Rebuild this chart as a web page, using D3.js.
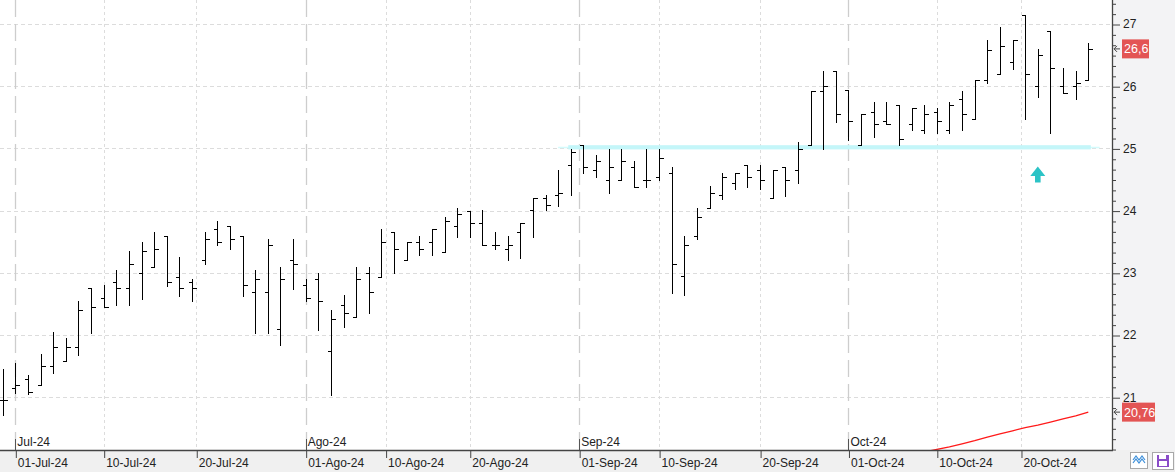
<!DOCTYPE html>
<html><head><meta charset="utf-8">
<script src="https://cdn.jsdelivr.net/npm/d3@7"></script>
<style>html,body{margin:0;padding:0;background:#fff;overflow:hidden}svg{display:block}</style>
</head><body><svg id="c" width="1175" height="472"></svg>
<script>
// ---- data (daily OHLC, 28-Jun-24 .. 28-Oct-24) ----
const firstDay = "2024-06-28";
const opens  = [20.95,21.14,21.29,21.19,21.50,21.59,21.81,22.75,22.59,22.85,22.75,23.00,23.09,23.59,22.94,22.85,23.20,23.70,23.75,23.59,22.69,22.69,22.10,23.20,22.80,22.90,21.74,22.49,22.29,22.99,22.94,23.65,23.20,23.49,23.49,23.34,23.75,23.99,23.80,23.44,23.39,23.65,24.01,24.20,24.25,24.74,25.05,24.65,24.49,24.49,24.70,24.49,24.54,24.60,22.95,23.59,24.04,24.25,24.44,24.74,24.65,24.20,24.70,24.65,25.05,25.93,26.24,25.94,25.05,25.59,25.44,25.70,25.39,25.29,25.59,25.29,25.79,25.48,26.10,26.19,26.39,27.15,26.00,26.89,26.00,26.00,26.10];
const highs  = [21.45,21.55,21.36,21.70,22.05,21.95,22.55,22.75,22.80,23.05,23.35,23.49,23.65,23.59,23.25,22.90,23.65,23.84,23.75,23.59,23.04,23.54,23.09,23.54,22.90,22.99,22.40,22.64,23.09,23.09,23.70,23.65,23.49,23.59,23.70,23.89,24.04,23.99,24.01,23.66,23.59,23.80,24.20,24.25,24.65,24.99,25.05,24.89,24.99,24.99,24.80,24.99,24.99,24.70,23.59,24.04,24.40,24.60,24.60,24.74,24.74,24.65,24.70,25.10,25.93,26.24,26.24,25.94,25.55,25.74,25.74,25.70,25.65,25.70,25.65,25.74,25.93,26.10,26.74,26.95,26.74,27.15,26.60,26.89,26.29,26.24,26.70];
const lows   = [20.71,21.06,21.05,21.19,21.39,21.59,21.68,22.04,22.45,22.49,22.49,22.58,23.09,22.79,22.63,22.54,23.14,23.44,23.39,22.63,22.04,22.04,21.84,22.74,22.54,22.08,21.04,22.13,22.29,22.35,22.94,22.99,23.20,23.29,23.29,23.34,23.58,23.58,23.44,23.39,23.20,23.24,23.58,24.01,24.08,24.25,24.60,24.54,24.29,24.49,24.38,24.38,24.49,22.68,22.64,23.54,24.04,24.19,24.34,24.38,24.34,24.20,24.24,24.44,25.05,24.99,25.43,25.14,25.05,25.19,25.39,25.05,25.29,25.24,25.24,25.24,25.29,25.48,26.05,26.19,26.28,25.48,25.83,25.24,25.89,25.79,26.10];
const closes = [20.96,21.20,21.09,21.50,21.81,21.81,22.40,22.45,22.45,22.75,23.14,23.35,23.39,22.85,22.75,22.75,23.54,23.49,23.54,22.80,22.90,23.45,22.90,23.14,22.59,22.54,22.26,22.35,22.90,22.69,23.49,23.39,23.49,23.39,23.70,23.84,23.94,23.80,23.44,23.44,23.44,23.80,24.20,24.09,24.29,24.94,24.70,24.80,24.70,24.80,24.38,24.49,24.84,23.14,23.45,23.89,24.29,24.54,24.60,24.54,24.49,24.65,24.49,24.99,25.93,26.01,25.56,25.44,25.55,25.39,25.39,25.15,25.65,25.55,25.44,25.70,25.55,26.10,26.59,26.64,26.74,26.20,26.50,26.29,25.89,26.05,26.60];
// red moving-average line (only the visible tail, starting at bar index maStart)
const maStart = 73;
const maValues = [20.12,20.16,20.20,20.25,20.30,20.36,20.41,20.46,20.51,20.55,20.60,20.65,20.70,20.76];
// date axis
const tickDates  = ["2024-07-01","2024-07-10","2024-07-20","2024-08-01","2024-08-10","2024-08-20","2024-09-01","2024-09-10","2024-09-20","2024-10-01","2024-10-10","2024-10-20"];
const tickLabels = ["01-Jul-24","10-Jul-24","20-Jul-24","01-Ago-24","10-Ago-24","20-Ago-24","01-Sep-24","10-Sep-24","20-Sep-24","01-Oct-24","10-Oct-24","20-Oct-24"];
const monthDates  = ["2024-07-01","2024-08-01","2024-09-01","2024-10-01"];
const monthLabels = ["Jul-24","Ago-24","Sep-24","Oct-24"];
// price axis
const yTicks = [21,22,23,24,25,26,27];
const supportLevel = 25;
const signalBar = 82, signalValue = 24.71;
const lastPriceLabel = "26,6", lastPriceValue = 26.6;
const maLabel = "20,76", maLabelValue = 20.76;

// ---- layout ----
const W = 1175, H = 472, plotR = 1112, plotB = 450;
const svg = d3.select("#c");
const font = "'Liberation Sans', Arial, sans-serif";

// trading calendar
const parse = d3.utcParse("%Y-%m-%d");
const days = [];
{ let d = parse(firstDay); while (days.length < opens.length) { const wd = d.getUTCDay(); if (wd !== 0 && wd !== 6) days.push(new Date(d)); d = d3.utcDay.offset(d, 1); } }
function fracIndex(s) {
  const d = parse(s);
  let i = days.findIndex(t => +t === +d);
  if (i >= 0) return i;
  let last = 0; days.forEach((t, k) => { if (t < d) last = k; });
  return last + d3.utcDay.count(days[last], d) / 3;
}

const x = d3.scaleLinear().domain([0, opens.length - 1]).range([2.7, 1088.3]);
const y = d3.scaleLinear().domain([21, 27]).range([397.2, 24]);
const px = v => Math.round(v) + 0.5;

// backgrounds
svg.append("rect").attr("width", W).attr("height", H).attr("fill", "#fff");
svg.append("rect").attr("x", plotR).attr("y", 0).attr("width", W - plotR).attr("height", plotB).attr("fill", "#f3f3f5");
svg.append("rect").attr("x", 0).attr("y", plotB).attr("width", W).attr("height", H - plotB).attr("fill", "#f0f0f0");

svg.append("defs").append("clipPath").attr("id", "plot").append("rect").attr("x", 0).attr("y", 0).attr("width", plotR).attr("height", plotB);
const plot = svg.append("g").attr("clip-path", "url(#plot)");

// horizontal grid
plot.selectAll("line.hg").data(yTicks).join("line").attr("class", "hg")
  .attr("x1", 0).attr("x2", plotR).attr("y1", d => px(y(d))).attr("y2", d => px(y(d)))
  .attr("stroke", "#dcdcdc").attr("stroke-dasharray", "4,3");
// vertical grid
const monthPos = monthDates.map(fracIndex);
const tickPos = tickDates.map(fracIndex);
plot.selectAll("line.vg").data(tickPos.filter((p, i) => !monthDates.includes(tickDates[i]))).join("line").attr("class", "vg")
  .attr("x1", d => px(x(d))).attr("x2", d => px(x(d))).attr("y1", 0).attr("y2", plotB)
  .attr("stroke", "#dcdcdc").attr("stroke-dasharray", "3,3");
plot.selectAll("line.mg").data(monthPos).join("line").attr("class", "mg")
  .attr("x1", d => px(x(d))).attr("x2", d => px(x(d))).attr("y1", 0).attr("y2", plotB)
  .attr("stroke", "#cdcdcd").attr("stroke-width", 1.3).attr("stroke-dasharray", "17,7");

// support band at 25
plot.append("line").attr("x1", x(44.0)).attr("x2", x(86.9)).attr("y1", y(supportLevel) - 0.8).attr("y2", y(supportLevel) - 0.8)
  .attr("stroke", "#d4fbfc").attr("stroke-width", 1.5);
plot.append("rect").attr("x", x(44.8)).attr("width", x(86.2) - x(44.8)).attr("y", y(supportLevel) - 3.2).attr("height", 4.2)
  .attr("fill", "#c4f6f9");

// red MA line
plot.append("path").datum(maValues)
  .attr("d", d3.line().x((d, i) => x(maStart + i)).y(d => y(d)))
  .attr("fill", "none").attr("stroke", "#ff1a1a").attr("stroke-width", 1.3);

// OHLC bars
const bars = plot.append("g").attr("stroke", "#000").attr("stroke-width", 1).attr("shape-rendering", "crispEdges");
opens.forEach((o, i) => {
  const cx = px(x(i));
  bars.append("line").attr("x1", cx).attr("x2", cx).attr("y1", Math.round(y(highs[i]))).attr("y2", Math.round(y(lows[i])) + 1);
  bars.append("line").attr("x1", cx - 4).attr("x2", cx).attr("y1", px(y(o))).attr("y2", px(y(o)));
  bars.append("line").attr("x1", cx).attr("x2", cx + 4.5).attr("y1", px(y(closes[i]))).attr("y2", px(y(closes[i])));
});

// signal arrow
{
  const ax = x(signalBar), ay = y(signalValue);
  plot.append("path").attr("fill", "#2cc3c6")
    .attr("d", `M${ax},${ay} L${ax + 7.5},${ay + 9.5} L${ax + 2.8},${ay + 9.5} L${ax + 2.8},${ay + 16} L${ax - 2.8},${ay + 16} L${ax - 2.8},${ay + 9.5} L${ax - 7.5},${ay + 9.5} Z`);
}

// month labels + month ticks
svg.selectAll("line.mt").data(monthPos).join("line").attr("class", "mt")
  .attr("x1", d => px(x(d))).attr("x2", d => px(x(d))).attr("y1", 439).attr("y2", plotB)
  .attr("stroke", "#555");
svg.selectAll("text.ml").data(monthPos).join("text").attr("class", "ml")
  .attr("x", d => x(d) + 2).attr("y", 446).text((d, i) => monthLabels[i])
  .attr("font-family", font).attr("font-size", 12).attr("fill", "#222");

// bottom date axis
const xAxis = d3.axisBottom(x).tickValues(tickPos).tickSize(8).tickFormat((d, i) => tickLabels[i]);
const gx = svg.append("g").attr("transform", `translate(0,${plotB})`).call(xAxis);
gx.select(".domain").remove();
gx.selectAll(".tick line").attr("stroke", "#444").attr("transform", "translate(0.5,0)");
gx.selectAll(".tick text").attr("text-anchor", "start").attr("x", 2).attr("y", 8).attr("dy", "0.71em")
  .attr("font-family", font).attr("font-size", 12).attr("fill", "#222");
svg.append("line").attr("x1", 0).attr("x2", plotR + 1).attr("y1", plotB + 0.5).attr("y2", plotB + 0.5).attr("stroke", "#444").attr("stroke-width", 1.3);

// right price axis
const minor = d3.range(120, 166).map(k => k / 6).filter(v => y(v) >= 0 && y(v) <= plotB && Math.abs(v - Math.round(v)) > 1e-6);
const gyMin = svg.append("g").attr("transform", `translate(${plotR},0)`).call(d3.axisRight(y).tickValues(minor).tickSize(4).tickFormat(""));
gyMin.select(".domain").remove();
gyMin.selectAll(".tick line").attr("stroke", "#444").attr("transform", "translate(0,0.5)");
const gy = svg.append("g").attr("transform", `translate(${plotR},0)`).call(d3.axisRight(y).tickValues(yTicks).tickSize(8).tickPadding(3).tickFormat(d3.format("d")));
gy.select(".domain").remove();
gy.selectAll(".tick line").attr("stroke", "#444").attr("transform", "translate(0,0.5)");
gy.selectAll(".tick text").attr("font-family", font).attr("font-size", 12).attr("fill", "#222");
svg.append("line").attr("x1", plotR + 0.5).attr("x2", plotR + 0.5).attr("y1", 0).attr("y2", plotB).attr("stroke", "#444").attr("stroke-width", 1.3);

// price tags
function tag(val, label, w) {
  const yy = y(val);
  svg.append("rect").attr("x", 1122).attr("y", yy - 9.5).attr("width", w).attr("height", 19).attr("fill", "#e35454");
  svg.append("text").attr("x", 1124).attr("y", yy).attr("dy", "0.35em").text(label)
    .attr("font-family", font).attr("font-size", 12.5).attr("fill", "#fff");
  svg.append("path").attr("d", `M${1120},${yy} L${1114},${yy} M${1117},${yy - 3} L${1114},${yy} L${1117},${yy + 3}`)
    .attr("stroke", "#444").attr("fill", "none").attr("stroke-width", 1);
}
tag(lastPriceValue, lastPriceLabel, 27);
tag(maLabelValue, maLabel, 33);

// bottom-right buttons
svg.append("rect").attr("x", 1130.5).attr("y", 452.5).attr("width", 17).attr("height", 16).attr("fill", "#fff").attr("stroke", "#a8a8a8");
[0, 3].forEach(o => svg.append("polyline")
  .attr("points", `1133,${460 + o} 1136,${456 + o} 1139,${460 + o} 1142,${456 + o} 1145,${460 + o}`)
  .attr("fill", "none").attr("stroke", "#3d8fd9").attr("stroke-width", 1.2));
svg.append("rect").attr("x", 1152.5).attr("y", 452.5).attr("width", 21).attr("height", 17).attr("fill", "#fff").attr("stroke", "#a8a8a8");
svg.append("rect").attr("x", 1157).attr("y", 455).attr("width", 12).attr("height", 12).attr("fill", "#8a4cc8");
svg.append("rect").attr("x", 1159).attr("y", 455).attr("width", 7).attr("height", 4).attr("fill", "#fff");
svg.append("rect").attr("x", 1159).attr("y", 461).attr("width", 8).attr("height", 5).attr("fill", "#fff");
</script></body></html>
